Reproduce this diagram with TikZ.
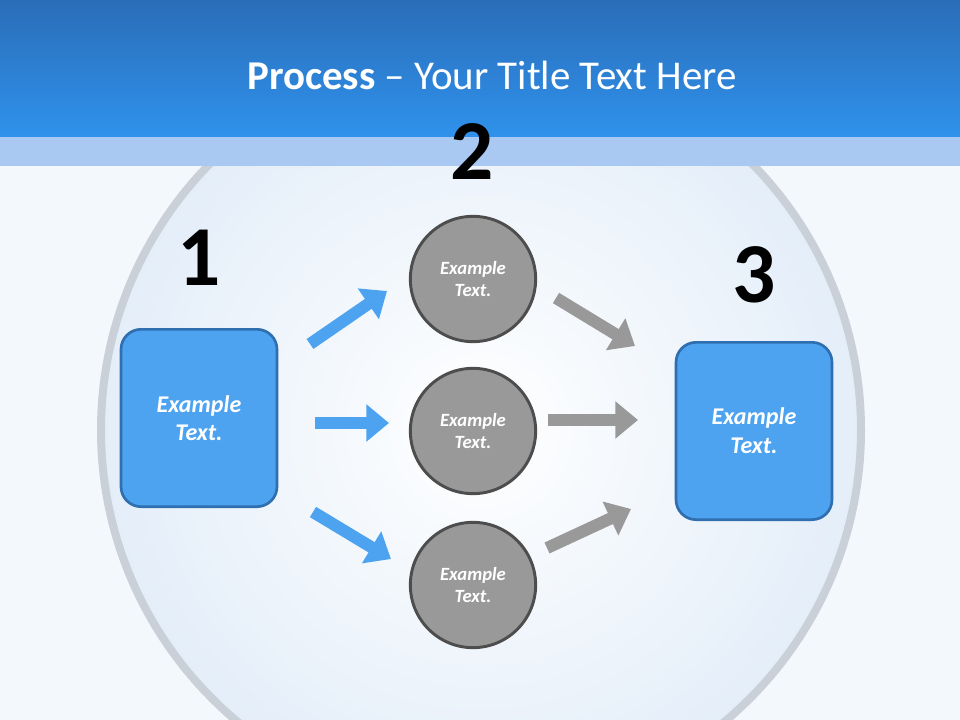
\documentclass[tikz,border=0pt]{standalone}
\usepackage{fontspec}
\setmainfont{Carlito}
\usetikzlibrary{arrows.meta}
\definecolor{bg}{HTML}{F3F8FC}
\definecolor{hdtop}{HTML}{2A6DB8}
\definecolor{hdbot}{HTML}{2F92EC}
\definecolor{band}{HTML}{A9C9F2}
\definecolor{boxfill}{HTML}{4DA3F0}
\definecolor{boxline}{HTML}{2F6FB0}
\definecolor{circfill}{HTML}{999999}
\definecolor{circline}{HTML}{4D4D4D}
\definecolor{ring}{HTML}{C9D0D8}
\definecolor{sph}{HTML}{E4EEF9}
\tikzset{x=0.75pt,y=-0.75pt,
 bluebox/.style={draw=boxline,line width=2pt,fill=boxfill,rounded corners=15pt,minimum width=117pt,minimum height=133pt,text=white,font=\fontsize{18}{21.5}\selectfont\bfseries\itshape,align=center},
 graycirc/.style={circle,draw=circline,line width=2.2pt,fill=circfill,minimum size=94pt,text=white,font=\fontsize{14}{17}\selectfont\bfseries\itshape,align=center},
 bigno/.style={font=\fontsize{64}{64}\selectfont\bfseries},
 barrow/.style={draw=boxfill,line width=9pt,-{Triangle[length=17pt,width=27pt]}},
 garrow/.style={draw=circfill,line width=9pt,-{Triangle[length=17pt,width=27pt]}}}
\begin{document}
\begin{tikzpicture}
\useasboundingbox (0,0) rectangle (960,720);
\fill[bg] (0,0) rectangle (960,720);
\shade[inner color=white,outer color=sph] (481,430) circle[radius=380];
\draw[ring,line width=6pt] (481,430) circle[radius=380];
\fill[band] (0,137) rectangle (960,166);
\shade[top color=hdtop,bottom color=hdbot] (0,0) rectangle (960,137);
\node[text=white,font=\fontsize{30.7}{36}\selectfont] (title) at (492,75) {\textbf{Process} -- Your Title Text Here};
\node[bluebox] (b1) at (199,418) {Example\\Text.};
\node[bluebox] (b3) at (754,431) {Example\\Text.};
\node[graycirc] (c1) at (473,279) {Example\\Text.};
\node[graycirc] (c2) at (473,431) {Example\\Text.};
\node[graycirc] (c3) at (473,585) {Example\\Text.};
\node[bigno] (n1) at (199,258) {1};
\node[bigno] (n2) at (472,152) {2};
\node[bigno] (n3) at (754,275) {3};
\coordinate (a1s) at (310,344); \coordinate (a1e) at (387,291);
\coordinate (a2s) at (315,423); \coordinate (a2e) at (389,423);
\coordinate (a3s) at (313,512); \coordinate (a3e) at (391,559);
\coordinate (g1s) at (556,298); \coordinate (g1e) at (635,346);
\coordinate (g2s) at (548,420); \coordinate (g2e) at (638,420);
\coordinate (g3s) at (547,548); \coordinate (g3e) at (631,509);
\draw[barrow] (a1s) -- (a1e);
\draw[barrow] (a2s) -- (a2e);
\draw[barrow] (a3s) -- (a3e);
\draw[garrow] (g1s) -- (g1e);
\draw[garrow] (g2s) -- (g2e);
\draw[garrow] (g3s) -- (g3e);
\end{tikzpicture}
\end{document}
